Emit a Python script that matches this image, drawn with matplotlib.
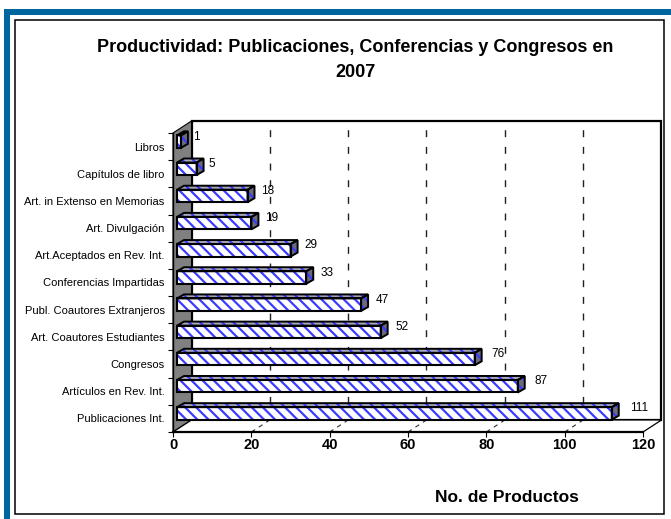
import numpy as np
import matplotlib
matplotlib.use('Agg')
import matplotlib.pyplot as plt
from matplotlib.patches import Polygon, Rectangle
from matplotlib.transforms import IdentityTransform, offset_copy

plt.rcParams['font.family'] = ['Liberation Sans', 'DejaVu Sans']
plt.rcParams['hatch.linewidth'] = 1.6

# ─── Data ───
categories = ['Libros', 'Capítulos de libro', 'Art. in Extenso en Memorias',
              'Art. Divulgación', 'Art.Aceptados en Rev. Int.', 'Conferencias Impartidas',
              'Publ. Coautores Extranjeros', 'Art. Coautores Estudiantes', 'Congresos',
              'Artículos en Rev. Int.', 'Publicaciones Int.']
values = [1, 5, 18, 19, 29, 33, 47, 52, 76, 87, 111]
x_ticks = [0, 20, 40, 60, 80, 100, 120]

title = 'Productividad: Publicaciones, Conferencias y Congresos en\n2007'
xlabel = 'No. de Productos'

# ─── Style ───
W, H = 671, 519
BLUE_FRAME = '#00669E'
HATCH_BLUE = '#3c3cff'
DX, DY = 18.5, 12        # wall depth in pixels
BAR_OFF = (4, 5)         # bar front face shift in pixels
BDX, BDY = 7, 4          # bar depth in pixels
BAR_H = 0.46

fig = plt.figure(figsize=(W / 100, H / 100), dpi=100)
fig.patch.set_facecolor('white')

# blue frame (top and left) + inner black panel, behind the axes
fig.add_artist(Rectangle((4 / W, 1 - 15 / H), 1, 6 / H, transform=fig.transFigure,
                         facecolor=BLUE_FRAME, edgecolor='none', zorder=-3))
fig.add_artist(Rectangle((4 / W, 0), 6 / W, 1 - 9 / H, transform=fig.transFigure,
                         facecolor=BLUE_FRAME, edgecolor='none', zorder=-3))
fig.add_artist(Rectangle((15 / W, 1 - 514 / H), 649 / W, 494 / H, transform=fig.transFigure,
                         facecolor='white', edgecolor='black', linewidth=1.1, zorder=-2))

ax = fig.add_axes([173 / W, 1 - 432 / H, 470 / W, 299 / H])
ax.set_xlim(0, 120)
ax.set_ylim(-0.5, len(categories) - 0.5)
ax.patch.set_visible(False)
for s in ['top', 'right']:
    ax.spines[s].set_visible(False)
ax.spines['left'].set_linewidth(1.0)
ax.spines['bottom'].set_linewidth(1.6)

ypos = np.arange(len(categories))[::-1]   # Libros at top
ymin, ymax = -0.5, len(categories) - 0.5
ident = IdentityTransform()


def disp(x, y, dx=0.0, dy=0.0):
    px, py = ax.transData.transform((x, y))
    return (px + dx, py + dy)


def poly(pts, **kw):
    p = Polygon(pts, closed=True, transform=ident, clip_on=False, **kw)
    ax.add_patch(p)
    return p


# back wall
poly([disp(0, ymin, DX, DY), disp(120, ymin, DX, DY), disp(120, ymax, DX, DY), disp(0, ymax, DX, DY)],
     facecolor='white', edgecolor='black', linewidth=1.6, zorder=1)
# left wall
poly([disp(0, ymin), disp(0, ymax), disp(0, ymax, DX, DY), disp(0, ymin, DX, DY)],
     facecolor='#808080', edgecolor='black', linewidth=0.8, zorder=1.5)
# floor
poly([disp(0, ymin), disp(120, ymin), disp(120, ymin, DX, DY), disp(0, ymin, DX, DY)],
     facecolor='white', edgecolor='black', linewidth=0.9, zorder=1.5)

# gridlines on the back wall and floor
for xv in x_ticks[1:-1]:
    x0, y0 = disp(xv, ymin, DX, DY)
    x1, y1 = disp(xv, ymax, DX, DY)
    ax.plot([x0, x1], [y0, y1], transform=ident, clip_on=False, color='#202020',
            linewidth=1.0, linestyle=(0, (5, 7)), zorder=2)
    fx, fy = disp(xv, ymin)
    ax.plot([fx, x0], [fy, y0], transform=ident, clip_on=False, color='#303030',
            linewidth=0.8, linestyle=(0, (4, 4)), zorder=2)

# bars: front faces through barh, top/side faces from the same values
front_tr = offset_copy(ax.transData, fig=fig, x=BAR_OFF[0], y=BAR_OFF[1], units='dots')
ax.barh(ypos, values, height=BAR_H, left=0, color='white', edgecolor=HATCH_BLUE,
        hatch='\\\\\\', linewidth=0, transform=front_tr, clip_on=False, zorder=4)
ax.barh(ypos, values, height=BAR_H, left=0, fill=False, edgecolor='black',
        linewidth=1.5, transform=front_tr, clip_on=False, zorder=5)

ox, oy = BAR_OFF
for yv, v in zip(ypos, values):
    yt, yb = yv + BAR_H / 2, yv - BAR_H / 2
    top = [disp(0, yt, ox, oy), disp(v, yt, ox, oy),
           disp(v, yt, ox + BDX, oy + BDY), disp(0, yt, ox + BDX, oy + BDY)]
    side = [disp(v, yb, ox, oy), disp(v, yt, ox, oy),
            disp(v, yt, ox + BDX, oy + BDY), disp(v, yb, ox + BDX, oy + BDY)]
    for pts, fc in [(top, '#a8a8b8'), (side, '#6a6a7a')]:
        poly(pts, facecolor=fc, edgecolor=HATCH_BLUE, hatch='\\\\\\', linewidth=0, zorder=4)
        poly(pts, fill=False, edgecolor='black', linewidth=1.4, zorder=5)
    lx, ly = disp(v, yv, 16 + 0.06 * v, 10)
    ax.text(lx, ly, str(v), transform=ident, ha='left', va='center',
            fontsize=8.5, color='black', clip_on=False, zorder=6)

# axes ticks and labels
ax.set_yticks(ypos)
ax.set_yticklabels(categories, fontsize=8)
ax.set_yticks(np.arange(ymin, ymax + 0.01, 1.0), minor=True)
ax.tick_params(axis='y', which='major', length=0, pad=6)
ax.tick_params(axis='y', which='minor', length=3.6, width=0.8, direction='out')

ax.set_xticks(x_ticks)
ax.set_xticklabels([str(t) for t in x_ticks], fontsize=10.5, fontweight='bold')
ax.tick_params(axis='x', length=3.6, width=0.8, direction='out', pad=0.5)

fig.text(507 / W, 1 - 498 / H, xlabel, ha='center', va='center',
         fontsize=12.5, fontweight='bold')
fig.text(355 / W, 1 - 60 / H, title, ha='center', va='center',
         fontsize=13, fontweight='bold', linespacing=1.6)

fig.savefig('out.png', dpi=100)
